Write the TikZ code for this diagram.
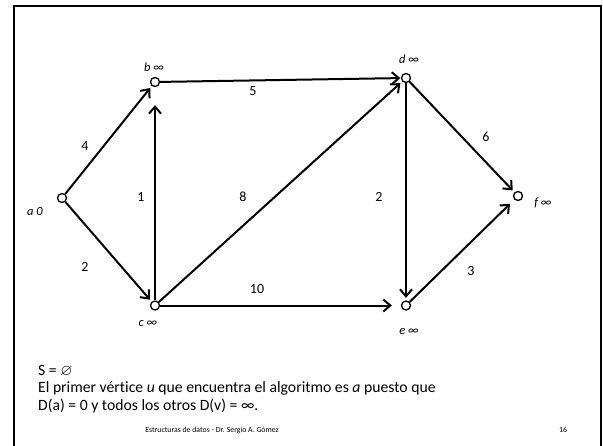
\documentclass[tikz,border=0pt]{standalone}
\usepackage{fontspec}
\usepackage{amssymb}
\setmainfont{Carlito}[Ligatures=NoCommon]
\usetikzlibrary{arrows.meta}
\begin{document}
\begin{tikzpicture}[x=1pt,y=-1pt,
  vtx/.style={circle,draw,line width=1.3pt,fill=white,minimum size=9pt,inner sep=0pt},
  arr/.style={line width=2pt,-{Straight Barb[length=7pt,width=12pt,line width=2pt]}},
  vlab/.style={font=\fontsize{12.5}{14}\selectfont\itshape,inner sep=0pt},
  elab/.style={font=\fontsize{14}{16}\selectfont,inner sep=0pt},
  txt/.style={font=\fontsize{15.7}{18}\selectfont,inner sep=0pt,anchor=base west},
  foot/.style={font=\fontsize{7.8}{9}\selectfont,inner sep=0pt,anchor=base}]
\useasboundingbox (0,0) rectangle (603,445);
\begin{scope}
\clip (0,0) rectangle (603,445);
\draw[line width=2pt] (14,450) -- (14,6) -- (601,6) -- (601,450);
\end{scope}
% vertices
\node[vtx] (a) at (62,198) {};
\node[vtx] (b) at (155,82) {};
\node[vtx] (c) at (155,305.5) {};
\node[vtx] (d) at (406,78) {};
\node[vtx] (e) at (406,305.5) {};
\node[vtx] (f) at (518,196) {};
% vertex labels
\node[vlab] (la) at (35,211) {a 0};
\node[vlab] (lb) at (154,67) {b ∞};
\node[vlab] (lc) at (148,324) {c ∞};
\node[vlab] (ld) at (409,59) {d ∞};
\node[vlab] (le) at (409,332) {e ∞};
\node[vlab] (lf) at (543,203) {f ∞};
% edges
\draw[arr,shorten >=2.5pt] (a) -- (b);
\draw[arr,shorten >=2.5pt] (a) -- (c);
\draw[arr,shorten >=18pt] (c) -- (b);
\draw[arr,shorten >=0.5pt] (b) -- (d);
\draw[arr,shorten >=2.5pt] (c) -- (d);
\draw[arr,shorten >=9pt] (c) -- (e);
\draw[arr,shorten >=2.5pt] (d) -- (e);
\draw[arr,shorten >=2.5pt] (d) -- (f);
\draw[arr,shorten >=6pt] (e) -- (f);
% edge labels
\node[elab] (w4) at (85,146) {4};
\node[elab] (w2) at (85,267) {2};
\node[elab] (w1) at (141,197) {1};
\node[elab] (w5) at (253,91) {5};
\node[elab] (w8) at (243,197) {8};
\node[elab] (w10) at (257,289) {10};
\node[elab] (w2b) at (379,197) {2};
\node[elab] (w6) at (486,137) {6};
\node[elab] (w3) at (471,271) {3};
% text
\node[txt] (t1) at (38,375) {S = $\varnothing$};
\node[txt] (t2) at (38,392.5) {El primer vértice \textit{u} que encuentra el algoritmo es \textit{a} puesto que};
\node[txt] (t3) at (38,410) {D(a) = 0 y todos los otros D(v) = ∞.};
\node[foot] (ft) at (212,432.5) {Estructuras de datos - Dr. Sergio A. Gómez};
\node[foot] (pg) at (563,432.5) {16};
\end{tikzpicture}
\end{document}
